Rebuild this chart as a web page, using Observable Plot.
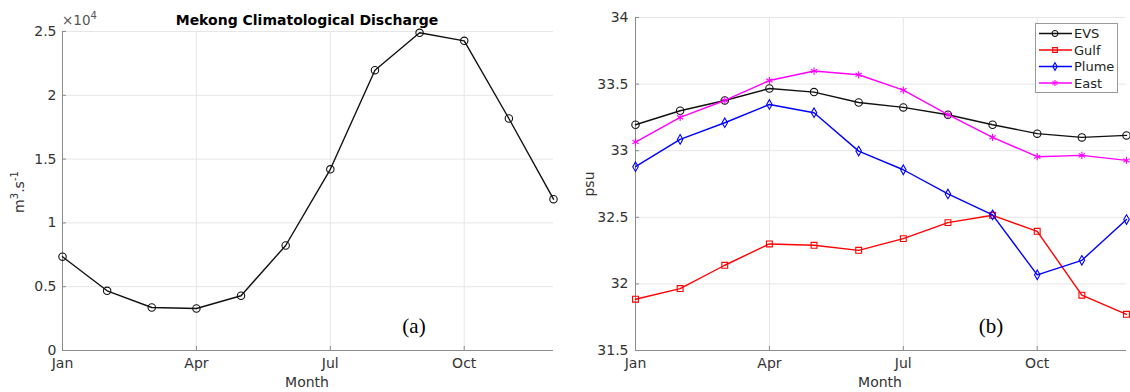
<!DOCTYPE html>
<html>
<head>
<meta charset="utf-8">
<script src="https://cdn.jsdelivr.net/npm/d3@7"></script>
<script src="https://cdn.jsdelivr.net/npm/@observablehq/plot@0.6"></script>
<style>
  body { margin: 0; background: white; }
  #wrap { position: relative; width: 1130px; height: 392px; overflow: hidden; font-family: "DejaVu Sans", sans-serif; color: #333; }
  .abs { position: absolute; white-space: nowrap; }
  #left, #right { position: absolute; top: 0; }
  #left { left: 0; }
  #right { left: 565px; }
</style>
</head>
<body>
<div id="wrap">
  <div id="left"></div>
  <div id="right"></div>
</div>
<script>
// ---- data ----
const monthNames = ["Jan","Feb","Mar","Apr","May","Jun","Jul","Aug","Sep","Oct","Nov","Dec"];
const monthNum = [1,2,3,4,5,6,7,8,9,10,11,12];
const xTicks = [1,4,7,10];
const discharge = [7350, 4680, 3370, 3290, 4290, 8230, 14200, 21970, 24900, 24270, 18180, 11860];
const evs   = [33.195, 33.30, 33.377, 33.467, 33.44, 33.362, 33.325, 33.27, 33.195, 33.128, 33.10, 33.115];
const gulf  = [31.885, 31.965, 32.14, 32.30, 32.29, 32.252, 32.34, 32.46, 32.515, 32.395, 31.915, 31.772];
const plume = [32.88, 33.085, 33.21, 33.347, 33.285, 32.997, 32.857, 32.675, 32.518, 32.068, 32.177, 32.483];
const east  = [33.065, 33.25, 33.377, 33.527, 33.598, 33.57, 33.455, 33.27, 33.10, 32.955, 32.965, 32.927];
const seriesNames = ["EVS","Gulf","Plume","East"];
const seriesColors = ["#111111","#ff0000","#0000ff","#ff00ff"];
const seriesSymbols = ["circle","square","diamond","asterisk"];
const leftYTicks = [0, 5000, 10000, 15000, 20000, 25000];
const rightYTicks = [31.5, 32, 32.5, 33, 33.5, 34];

const gridColor = "#e6e6e6";
const axisColor = "#8c8c8c";
const style = {fontFamily: "DejaVu Sans, sans-serif", fontSize: "14px", color: "#333", background: "white", overflow: "visible"};
const markerR = {circle: 3.7, square: 3.3, diamond: 2.9, asterisk: 3.4};

// ---- left chart ----
const dData = monthNum.map((m, i) => ({m, v: discharge[i]}));
const left = Plot.plot({
  width: 565, height: 392,
  marginLeft: 62, marginRight: 12, marginTop: 31, marginBottom: 42,
  style,
  x: {type: "linear", domain: [1, 12]},
  y: {type: "linear", domain: [0, 25000]},
  marks: [
    Plot.gridX(xTicks, {stroke: gridColor, strokeOpacity: 1}),
    Plot.gridY(leftYTicks, {stroke: gridColor, strokeOpacity: 1}),
    Plot.ruleX([1], {stroke: axisColor}),
    Plot.ruleY([0], {stroke: axisColor}),
    Plot.axisX(xTicks, {tickSize: -4, stroke: axisColor, tickFormat: () => "", label: null}),
    Plot.axisX(xTicks, {tickSize: 0, tickPadding: 8, tickFormat: m => monthNames[m - 1], label: null, fill: "#333"}),
    Plot.axisY(leftYTicks, {tickSize: -4, stroke: axisColor, tickFormat: () => "", label: null}),
    Plot.axisY(leftYTicks, {tickSize: 0, tickPadding: 6, tickFormat: v => String(v / 1e4), label: null, fill: "#333"}),
    Plot.line(dData, {x: "m", y: "v", stroke: "#111", strokeWidth: 1.4}),
    Plot.dot(dData, {x: "m", y: "v", r: markerR.circle, stroke: "#111", fill: "none", strokeWidth: 1.1})
  ]
});
document.getElementById("left").appendChild(left);

// ---- right chart ----
const seriesArrays = [evs, gulf, plume, east];
const seriesData = seriesArrays.map((arr, k) => arr.map((v, i) => ({s: seriesNames[k], m: monthNum[i], v})));
const right = Plot.plot({
  width: 565, height: 392,
  marginLeft: 70, marginRight: 4, marginTop: 17, marginBottom: 42,
  style,
  x: {type: "linear", domain: [1, 12]},
  y: {type: "linear", domain: [31.5, 34]},
  marks: [
    Plot.gridX(xTicks, {stroke: gridColor, strokeOpacity: 1}),
    Plot.gridY(rightYTicks, {stroke: gridColor, strokeOpacity: 1}),
    Plot.ruleX([1], {stroke: axisColor}),
    Plot.ruleY([31.5], {stroke: axisColor}),
    Plot.axisX(xTicks, {tickSize: -4, stroke: axisColor, tickFormat: () => "", label: null}),
    Plot.axisX(xTicks, {tickSize: 0, tickPadding: 8, tickFormat: m => monthNames[m - 1], label: null, fill: "#333"}),
    Plot.axisY(rightYTicks, {tickSize: -4, stroke: axisColor, tickFormat: () => "", label: null}),
    Plot.axisY(rightYTicks, {tickSize: 0, tickPadding: 7, tickFormat: v => String(v), label: null, fill: "#333"}),
    ...seriesData.flatMap((data, k) => [
      Plot.line(data, {x: "m", y: "v", stroke: seriesColors[k], strokeWidth: 1.4}),
      Plot.dot(data, {x: "m", y: "v", stroke: seriesColors[k], symbol: seriesSymbols[k], r: markerR[seriesSymbols[k]], fill: "none", strokeWidth: 1.1})
    ])
  ]
});
document.getElementById("right").appendChild(right);

// ---- text overlays ----
const wrap = document.getElementById("wrap");
function addText(html, css) {
  const d = document.createElement("div");
  d.className = "abs";
  d.innerHTML = html;
  Object.assign(d.style, css);
  wrap.appendChild(d);
  return d;
}
addText("Mekong Climatological Discharge", {left: "307px", top: "12px", transform: "translateX(-50%)", fontWeight: "bold", fontSize: "14px", color: "#000"});
addText("&times;10<sup style='font-size:10px'>4</sup>", {left: "62px", top: "10px", fontSize: "13.5px", color: "#555"});
addText("m<sup style='font-size:10px'>3</sup>.s<sup style='font-size:10px'>-1</sup>", {left: "18px", top: "192px", transform: "translate(-50%,-50%) rotate(-90deg)", fontSize: "14px"});
addText("psu", {left: "589px", top: "184px", transform: "translate(-50%,-50%) rotate(-90deg)", fontSize: "14px"});
addText("Month", {left: "307px", top: "374px", transform: "translateX(-50%)", fontSize: "14px"});
addText("Month", {left: "880px", top: "374px", transform: "translateX(-50%)", fontSize: "14px"});
addText("(a)", {left: "414px", top: "326px", transform: "translate(-50%,-50%)", fontSize: "21px", fontFamily: "Liberation Serif, serif", color: "#000"});
addText("(b)", {left: "991px", top: "326px", transform: "translate(-50%,-50%)", fontSize: "21px", fontFamily: "Liberation Serif, serif", color: "#000"});

// ---- legend ----
const leg = d3.select(wrap).append("svg")
  .attr("width", 84).attr("height", 71)
  .style("position", "absolute").style("left", "1035px").style("top", "23px");
leg.append("rect").attr("x", 0.5).attr("y", 0.5).attr("width", 82).attr("height", 69)
  .attr("fill", "white").attr("stroke", "#999");
const symMap = {circle: d3.symbolCircle, square: d3.symbolSquare, diamond: d3.symbolDiamond, asterisk: d3.symbolAsterisk};
seriesNames.forEach((name, i) => {
  const y = 10.5 + i * 16.5;
  const g = leg.append("g");
  g.append("line").attr("x1", 4).attr("x2", 37).attr("y1", y).attr("y2", y).attr("stroke", seriesColors[i]).attr("stroke-width", 1.4);
  const rr = markerR[seriesSymbols[i]] * 0.8;
  g.append("path").attr("d", d3.symbol(symMap[seriesSymbols[i]], Math.PI * rr * rr)()).attr("transform", `translate(20,${y})`)
    .attr("fill", "none").attr("stroke", seriesColors[i]).attr("stroke-width", 1.1);
  g.append("text").attr("x", 39).attr("y", y).attr("dy", "0.36em").attr("font-size", 13)
    .attr("font-family", "DejaVu Sans, sans-serif").attr("fill", "#222").text(name);
});
</script>
</body>
</html>
